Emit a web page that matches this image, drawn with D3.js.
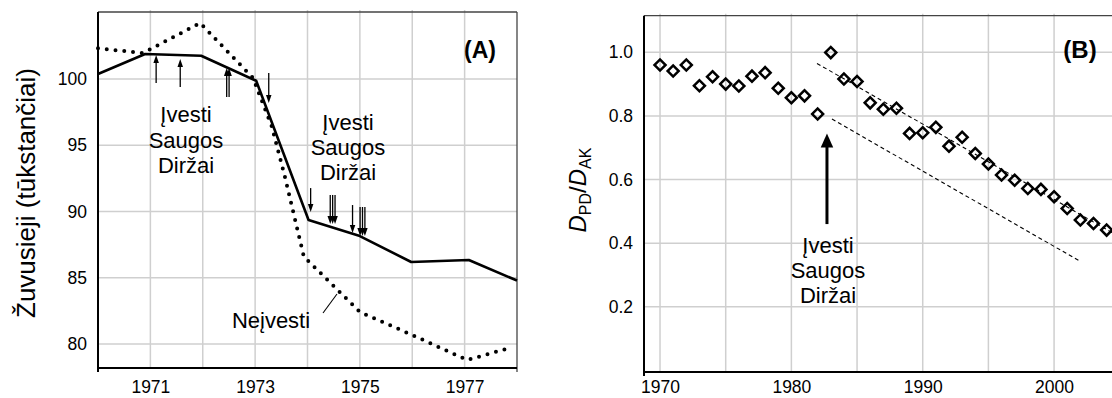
<!DOCTYPE html>
<html>
<head>
<meta charset="utf-8">
<script src="https://cdn.jsdelivr.net/npm/d3@7"></script>
<style>
body { margin: 0; background: #fff; }
svg text { font-family: "Liberation Sans", Arial, sans-serif; fill: #000; }
</style>
</head>
<body>
<script>
'use strict';

// panel (A)
var yearTicksA = [1971, 1973, 1975, 1977];
var valueTicksA = [80, 85, 90, 95, 100];
var withYears = [1970, 1970.9, 1971.97, 1973.02, 1974.02, 1975.0, 1975.98, 1977.08, 1978];
var withValues = [100.38, 101.89, 101.76, 99.87, 89.36, 88.15, 86.19, 86.34, 84.79];
var withoutYears = [1970, 1970.86, 1971.95, 1972.96, 1973.32, 1973.57, 1973.93, 1975.0, 1976.0, 1977.05, 1977.9];
var withoutValues = [102.32, 101.96, 104.23, 100.08, 96.4, 92.6, 86.6, 82.42, 80.68, 78.79, 79.75];
var arrowYears = [1971.11, 1971.57, 1972.48, 1973.26, 1974.06, 1974.48, 1974.86, 1975.05];
var arrowFrom = [99.70, 99.40, 98.64, 100.45, 91.77, 91.25, 90.49, 90.34];
var arrowTo = [101.81, 101.51, 100.83, 98.19, 89.96, 89.06, 88.38, 88.15];
var arrowShafts = [1, 1, 2, 1, 1, 3, 1, 3];

// panel (B)
var yearTicksB = [1970, 1980, 1990, 2000];
var ratioTicksB = [0.2, 0.4, 0.6, 0.8, 1.0];
var ratioYears = d3.range(1970, 2005);
var ratioValues = [0.96, 0.941, 0.96, 0.895, 0.923, 0.90, 0.894, 0.925, 0.936, 0.887,
                   0.857, 0.863, 0.806, 0.999, 0.916, 0.908, 0.841, 0.821, 0.824, 0.745,
                   0.747, 0.764, 0.705, 0.733, 0.682, 0.649, 0.614, 0.598, 0.572, 0.569,
                   0.546, 0.509, 0.473, 0.462, 0.441];
var trendUpper = [[1981.95, 0.965], [2004.5, 0.431]];
var trendLower = [[1983.09, 0.79], [2001.9, 0.345]];

var labelLines = ["Įvesti", "Saugos", "Diržai"];

var myChart = {};
myChart.width = 1112;
myChart.height = 398;

myChart.appendSvg = function(domObj){
    return d3.select(domObj).append("svg")
        .attr("width", myChart.width)
        .attr("height", myChart.height);
}

myChart.frame = function(svg, x, y, gridX, gridY, box){
    var g = svg.append("g");
    g.selectAll(".gx").data(gridX).enter().append("line")
        .attr("x1", function(d){ return x(d); }).attr("x2", function(d){ return x(d); })
        .attr("y1", box.top - 2).attr("y2", box.bottom)
        .attr("stroke", "#cfcfcf").attr("stroke-width", 1.5);
    g.selectAll(".gy").data(gridY).enter().append("line")
        .attr("x1", box.left).attr("x2", box.right)
        .attr("y1", function(d){ return y(d); }).attr("y2", function(d){ return y(d); })
        .attr("stroke", "#cfcfcf").attr("stroke-width", 1.5);
    g.append("line").attr("x1", box.left).attr("x2", box.right)
        .attr("y1", box.top).attr("y2", box.top)
        .attr("stroke", "#444").attr("stroke-width", 1.3);
    if (box.rightBorder) {
        g.append("line").attr("x1", box.right).attr("x2", box.right)
            .attr("y1", box.top).attr("y2", box.bottom + 4)
            .attr("stroke", "#444").attr("stroke-width", 1.3);
    }
}

myChart.axes = function(svg, x, y, xt, yt, yFmt, box, pad){
    var ax = svg.append("g").attr("transform", "translate(0," + box.bottom + ")")
        .call(d3.axisBottom(x).tickValues(xt).tickSize(0).tickPadding(pad).tickFormat(d3.format("d")));
    var ay = svg.append("g").attr("transform", "translate(" + box.left + ",0)")
        .call(d3.axisLeft(y).tickValues(yt).tickSize(0).tickPadding(11).tickFormat(yFmt));
    [ax, ay].forEach(function(a){
        a.select(".domain").remove();
        a.selectAll("text").style("font-size", "17.5px").attr("fill", "#000");
    });
    svg.append("line").attr("x1", box.left - 1).attr("x2", box.right)
        .attr("y1", box.bottom).attr("y2", box.bottom)
        .attr("stroke", "#000").attr("stroke-width", 2);
    svg.append("line").attr("x1", box.left).attr("x2", box.left)
        .attr("y1", box.top).attr("y2", box.bottom + 4)
        .attr("stroke", "#000").attr("stroke-width", 2);
}

myChart.label = function(svg, cx, baseline, lines, size, gap){
    var t = svg.append("text").attr("text-anchor", "middle")
        .style("font-size", size + "px");
    lines.forEach(function(s, i){
        t.append("tspan").attr("x", cx).attr("y", baseline + i * gap).text(s);
    });
}

myChart.arrow = function(svg, x0, y0, x1, y1, w, hl, hw){
    var dir = y1 < y0 ? 1 : -1;
    svg.append("line").attr("x1", x0).attr("x2", x1)
        .attr("y1", y0).attr("y2", y1 + dir * hl * 0.7)
        .attr("stroke", "#000").attr("stroke-width", w);
    svg.append("path")
        .attr("d", "M" + x1 + "," + y1 + "L" + (x1 - hw / 2) + "," + (y1 + dir * hl) +
                   "L" + (x1 + hw / 2) + "," + (y1 + dir * hl) + "Z")
        .attr("fill", "#000");
}

myChart.drawA = function(svg){
    var box = {left: 98, right: 517, top: 12, bottom: 368, rightBorder: true};
    var x = d3.scaleLinear().domain([1970, 1978]).range([box.left, box.right]);
    var y = d3.scaleLinear().domain([78.19, 105.06]).range([box.bottom, box.top]);

    myChart.frame(svg, x, y, d3.range(1971, 1978), valueTicksA, box);
    myChart.axes(svg, x, y, yearTicksA, valueTicksA, d3.format("d"), box, 13);

    var line = d3.line().x(function(d){ return x(d[0]); }).y(function(d){ return y(d[1]); });

    svg.append("path").datum(d3.zip(withoutYears, withoutValues))
        .attr("d", line).attr("fill", "none").attr("stroke", "#000")
        .attr("stroke-width", 4).attr("stroke-linecap", "round")
        .attr("stroke-dasharray", "0,8.8");
    svg.append("path").datum(d3.zip(withYears, withValues))
        .attr("d", line).attr("fill", "none").attr("stroke", "#000")
        .attr("stroke-width", 2.6).attr("stroke-linejoin", "round");

    arrowYears.forEach(function(yr, i){
        var n = arrowShafts[i];
        for (var k = 0; k < n; k++) {
            var off = (k - (n - 1) / 2) * 2.4;
            myChart.arrow(svg, x(yr) + off, y(arrowFrom[i]), x(yr) + off, y(arrowTo[i]), 1.3, 8, 5.5);
        }
    });

    myChart.label(svg, 186, 122, labelLines, 22, 25.5);
    myChart.label(svg, 348, 130, labelLines, 22, 25);
    svg.append("text").attr("x", 271).attr("y", 328).attr("text-anchor", "middle")
        .style("font-size", "22px").text("Neįvesti");
    svg.append("line").attr("x1", 323).attr("y1", 313).attr("x2", 337).attr("y2", 294)
        .attr("stroke", "#000").attr("stroke-width", 1.1);

    svg.append("text").attr("x", 480).attr("y", 58).attr("text-anchor", "middle")
        .style("font-size", "23px").style("font-weight", "bold").text("(A)");

    svg.append("text").attr("transform", "translate(35,193) rotate(-90)")
        .attr("text-anchor", "middle").style("font-size", "26px")
        .text("Žuvusieji (tūkstančiai)");
}

myChart.drawB = function(svg){
    var box = {left: 644, right: 1125, top: 15.7, bottom: 372, rightBorder: false};
    var x = d3.scaleLinear().domain([1968.78, 2005.4]).range([box.left, box.right]);
    var y = d3.scaleLinear().domain([-0.005, 1.115]).range([box.bottom, box.top]);

    myChart.frame(svg, x, y, d3.range(1970, 2006, 5), ratioTicksB, box);
    myChart.axes(svg, x, y, yearTicksB, ratioTicksB, d3.format(".1f"), box, 9);

    var line = d3.line().x(function(d){ return x(d[0]); }).y(function(d){ return y(d[1]); });
    [trendUpper, trendLower].forEach(function(t){
        svg.append("path").datum(t).attr("d", line)
            .attr("fill", "none").attr("stroke", "#000")
            .attr("stroke-width", 1.1).attr("stroke-dasharray", "4,3");
    });

    var s = 7.8;
    svg.selectAll(".dia").data(d3.zip(ratioYears, ratioValues)).enter()
        .append("rect")
        .attr("x", -s / 2).attr("y", -s / 2).attr("width", s).attr("height", s)
        .attr("transform", function(d){ return "translate(" + x(d[0]) + "," + y(d[1]) + ") rotate(45)"; })
        .attr("fill", "none").attr("stroke", "#000").attr("stroke-width", 2.5);

    myChart.arrow(svg, x(1982.71), y(0.46), x(1982.71), y(0.745), 3, 14, 12.5);
    myChart.label(svg, 828, 253, labelLines, 22, 25);

    svg.append("text").attr("x", 1080).attr("y", 58).attr("text-anchor", "middle")
        .style("font-size", "24px").style("font-weight", "bold").text("(B)");

    var t = svg.append("text").attr("transform", "translate(586,190) rotate(-90)")
        .attr("text-anchor", "middle").style("font-size", "24px");
    t.append("tspan").style("font-style", "italic").text("D");
    t.append("tspan").attr("dy", 5).style("font-size", "16px").text("PD");
    t.append("tspan").attr("dy", -5).text("/");
    t.append("tspan").style("font-style", "italic").text("D");
    t.append("tspan").attr("dy", 5).style("font-size", "16px").text("AK");
}

myChart.run = function(){
    var svg = myChart.appendSvg("body");
    myChart.drawA(svg);
    myChart.drawB(svg);
}

window.onload = myChart.run;
</script>
</body>
</html>
